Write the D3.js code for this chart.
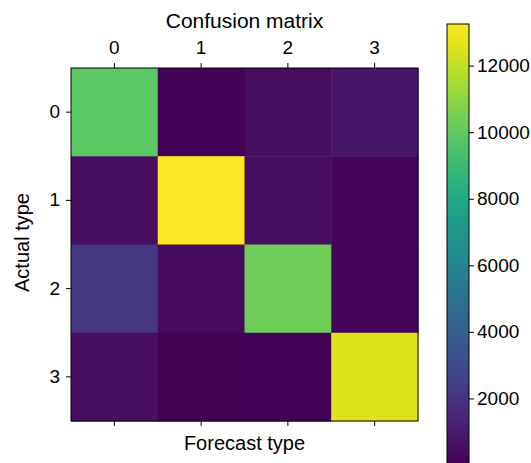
<!DOCTYPE html>
<html>
<head>
<meta charset="utf-8">
<script src="https://cdn.jsdelivr.net/npm/d3@7"></script>
<style>
  body { margin: 0; background: #fff; }
  svg text { font-family: "Liberation Sans", Arial, sans-serif; fill: #000; }
  .axis text { font-size: 19px; }
  .axis path, .axis line { stroke: #000; stroke-width: 1; }
</style>
</head>
<body>
<svg id="chart"></svg>
<script>
// class labels (rows = actual, columns = forecast)
const classes = [0, 1, 2, 3];
// counts per actual row
const row0 = [9900, 100, 450, 780];
const row1 = [480, 13250, 450, 200];
const row2 = [2100, 400, 10350, 200];
const row3 = [500, 60, 100, 12550];
const colorbarTicks = [2000, 4000, 6000, 8000, 10000, 12000];
const vMin = 30;
const vMax = 13250;

const matrix = [row0, row1, row2, row3];
const cells = [];
matrix.forEach((row, i) => row.forEach((v, j) => cells.push({actual: i, forecast: j, value: v})));

const width = 531, height = 463;
const svg = d3.select('#chart').attr('width', width).attr('height', height);

const plot = {left: 71, right: 418, top: 68, bottom: 421};

const xScale = d3.scaleBand().domain(classes).range([plot.left, plot.right]);
const yScale = d3.scaleBand().domain(classes).range([plot.top, plot.bottom]);
const color = d3.scaleSequential(d3.interpolateViridis).domain([vMin, vMax]);

// cells
svg.append('g').selectAll('rect')
  .data(cells)
  .join('rect')
  .attr('x', d => xScale(d.forecast))
  .attr('y', d => yScale(d.actual))
  .attr('width', xScale.bandwidth() + 0.5)
  .attr('height', yScale.bandwidth() + 0.5)
  .attr('fill', d => color(d.value));

// frame
svg.append('rect')
  .attr('x', plot.left).attr('y', plot.top)
  .attr('width', plot.right - plot.left).attr('height', plot.bottom - plot.top)
  .attr('fill', 'none').attr('stroke', '#000').attr('stroke-width', 1);

// axes
const xTop = d3.axisTop(xScale).tickSize(5).tickPadding(9).tickSizeOuter(0);
const xBottom = d3.axisBottom(xScale).tickSize(5).tickFormat('').tickSizeOuter(0);
const yLeft = d3.axisLeft(yScale).tickSize(5).tickPadding(6).tickSizeOuter(0);

svg.append('g').attr('class', 'axis')
  .attr('transform', `translate(0,${plot.top})`)
  .call(xTop).call(g => g.select('.domain').remove());
svg.append('g').attr('class', 'axis')
  .attr('transform', `translate(0,${plot.bottom})`)
  .call(xBottom).call(g => g.select('.domain').remove());
svg.append('g').attr('class', 'axis')
  .attr('transform', `translate(${plot.left},0)`)
  .call(yLeft).call(g => g.select('.domain').remove());

// titles
svg.append('text')
  .attr('x', (plot.left + plot.right) / 2).attr('y', 28)
  .attr('text-anchor', 'middle').style('font-size', '21px')
  .text('Confusion matrix');
svg.append('text')
  .attr('x', (plot.left + plot.right) / 2).attr('y', 450)
  .attr('text-anchor', 'middle').style('font-size', '20px')
  .text('Forecast type');
svg.append('text')
  .attr('transform', `translate(29,${(plot.top + plot.bottom) / 2 - 2}) rotate(-90)`)
  .attr('text-anchor', 'middle').style('font-size', '20px')
  .text('Actual type');

// colorbar
const cb = {x: 447, w: 22, top: 24, bottom: 464};
const cbScale = d3.scaleLinear().domain([vMin, vMax]).range([cb.bottom, cb.top]);

const defs = svg.append('defs');
const grad = defs.append('linearGradient')
  .attr('id', 'cb-grad')
  .attr('x1', 0).attr('y1', 1).attr('x2', 0).attr('y2', 0);
d3.range(0, 1.0001, 0.05).forEach(t => {
  grad.append('stop').attr('offset', t).attr('stop-color', d3.interpolateViridis(t));
});

svg.append('rect')
  .attr('x', cb.x).attr('y', cb.top)
  .attr('width', cb.w).attr('height', cb.bottom - cb.top)
  .attr('fill', 'url(#cb-grad)')
  .attr('stroke', '#000').attr('stroke-width', 1);

svg.append('g').attr('class', 'axis')
  .attr('transform', `translate(${cb.x + cb.w},0)`)
  .call(d3.axisRight(cbScale).tickValues(colorbarTicks).tickSize(5).tickPadding(3).tickFormat(d3.format('d')))
  .call(g => g.select('.domain').remove());
</script>
</body>
</html>
